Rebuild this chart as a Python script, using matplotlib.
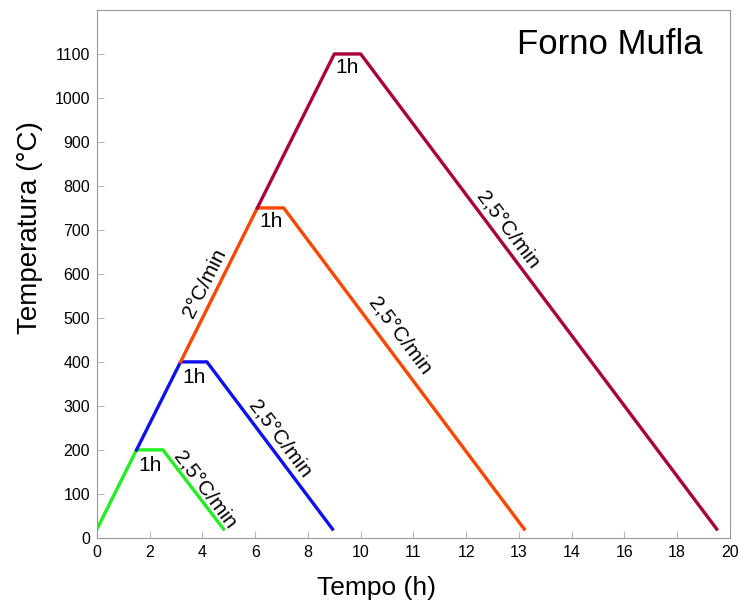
import matplotlib
matplotlib.use("Agg")
import matplotlib.pyplot as plt

plt.rcParams["font.family"] = ["Liberation Sans", "DejaVu Sans"]

# vertices of each firing cycle (time in h, temperature in degC)
green_t = [0, 1.5, 2.5, 4.8]
green_T = [20, 200, 200, 20]
blue_t = [1.5, 3.17, 4.17, 8.93]
blue_T = [200, 400, 400, 20]
orange_t = [3.17, 6.08, 7.08, 16.2]
orange_T = [400, 750, 750, 20]
crimson_t = [6.08, 9.0, 10.0, 23.5]
crimson_T = [750, 1100, 1100, 20]

xtick_pos = [0, 2, 4, 6, 8, 10, 12, 14, 16, 18, 20, 22, 24]
xtick_labels = ["0", "2", "4", "6", "8", "10", "11", "12", "13", "14", "16", "18", "20"]
ytick_pos = [0, 100, 200, 300, 400, 500, 600, 700, 800, 900, 1000, 1100]

fig = plt.figure(figsize=(7.42, 6.05), dpi=100)
ax = fig.add_axes([0.1307, 0.111, 0.853, 0.8725])

lw = 2.4
ax.plot(green_t, green_T, color="#22ee22", lw=lw, solid_joinstyle="round")
ax.plot(blue_t, blue_T, color="#1010ee", lw=lw, solid_joinstyle="round")
ax.plot(orange_t, orange_T, color="#ff4500", lw=lw, solid_joinstyle="round")
ax.plot(crimson_t, crimson_T, color="#aa0038", lw=lw, solid_joinstyle="round")

ax.set_xlim(0, 24)
ax.set_ylim(0, 1200)
ax.set_xticks(xtick_pos)
ax.set_xticklabels(xtick_labels)
ax.set_yticks(ytick_pos)
ax.tick_params(direction="in", length=5, color="#bbbbbb", labelsize=11.5, pad=5)
for s in ax.spines.values():
    s.set_color("#999999")

ax.set_xlabel("Tempo (h)", fontsize=19)
ax.set_ylabel("Temperatura (°C)", fontsize=20)
# labels sit off-centre in the original
ax.xaxis.set_label_coords(0.442, -0.072)
ax.yaxis.set_label_coords(-0.085, 0.587)

ax.text(0.81, 0.934, "Forno Mufla", transform=ax.transAxes, fontsize=25,
        ha="center", va="center")

fs = 15
# hold labels
ax.text(2.0, 165, "1h", fontsize=fs, ha="center", va="center")
ax.text(3.67, 365, "1h", fontsize=fs, ha="center", va="center")
ax.text(6.6, 720, "1h", fontsize=fs, ha="center", va="center")
ax.text(9.5, 1070, "1h", fontsize=fs, ha="center", va="center")
# rate labels
ax.text(4.1, 580, "2°C/min", fontsize=fs, ha="center", va="center",
        rotation=63.5, rotation_mode="anchor")
ax.text(4.1, 110, "2,5°C/min", fontsize=fs, ha="center", va="center",
        rotation=-53, rotation_mode="anchor")
ax.text(6.95, 225, "2,5°C/min", fontsize=fs, ha="center", va="center",
        rotation=-53, rotation_mode="anchor")
ax.text(11.5, 460, "2,5°C/min", fontsize=fs, ha="center", va="center",
        rotation=-53, rotation_mode="anchor")
ax.text(15.6, 700, "2,5°C/min", fontsize=fs, ha="center", va="center",
        rotation=-53, rotation_mode="anchor")

fig.savefig("out.png", dpi=100)
